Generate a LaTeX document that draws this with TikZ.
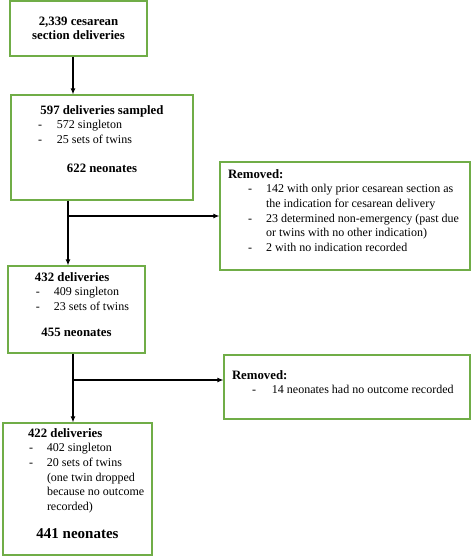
\documentclass[tikz,border=0pt]{standalone}
\usepackage{fontspec}
\setmainfont{Liberation Serif}
\usetikzlibrary{positioning}
\usetikzlibrary{calc}
\usetikzlibrary{arrows.meta}

\definecolor{boxgreen}{RGB}{112,173,71}
% box text: width, height, top gap, lines
\newcommand{\boxtext}[4]{\parbox[c][#2][t]{#1}{\vspace*{#3}#4}}
\newcommand{\dashitem}[3]{\hspace*{#1}\makebox[#2][l]{-}#3}
\newcommand{\hd}[1]{{\fontsize{12.8}{14.6}\selectfont\textbf{#1}}}

\tikzset{
  flowbox/.style={draw=boxgreen, line width=1.1pt, inner sep=0pt, font=\fontsize{12}{14.6}\selectfont},
  flowline/.style={line width=1.2pt, ->, >={Latex[length=6pt,width=5pt]}},
}

\begin{document}
\begin{tikzpicture}[x=1pt,y=-1pt]
	\useasboundingbox (0,0) rectangle (472,556);
	\node[flowbox] (total) at (78.5,28.5) {\parbox[c][55pt][c]{137pt}{\centering\hd{2,339 cesarean}\\\hd{section deliveries}}};
	\node[flowbox] (sampled) at (102,147.5) {\boxtext{182pt}{105pt}{10.5pt}{%
		\makebox[\linewidth]{\hd{597 deliveries sampled}}\\
		\dashitem{27pt}{19pt}{572 singleton}\\
		\dashitem{27pt}{19pt}{25 sets of twins}\\[14.6pt]
		\makebox[\linewidth]{\hd{622 neonates}}}};
	\node[flowbox] (removedA) at (345,216) {\boxtext{250pt}{108pt}{7.5pt}{%
		\hspace*{8pt}\hd{Removed:}\\
		\dashitem{28pt}{18pt}{142 with only prior cesarean section as}\\
		\hspace*{46pt}the indication for cesarean delivery\\
		\dashitem{28pt}{18pt}{23 determined non-emergency (past due}\\
		\hspace*{46pt}or twins with no other indication)\\
		\dashitem{28pt}{18pt}{2 with no indication recorded}}};
	\node[flowbox] (kept) at (76.5,309.5) {\boxtext{137pt}{87pt}{6.5pt}{%
		\hspace*{27pt}\hd{432 deliveries}\\
		\dashitem{28pt}{18pt}{409 singleton}\\
		\dashitem{28pt}{18pt}{23 sets of twins}\\[11pt]
		\makebox[\linewidth]{\hd{455 neonates}}}};
	\node[flowbox] (removedB) at (347,387) {\boxtext{246pt}{64pt}{15.5pt}{%
		\hspace*{8pt}\hd{Removed:}\\
		\dashitem{28pt}{20pt}{14 neonates had no outcome recorded}}};
	\node[flowbox] (final) at (77.5,489) {\boxtext{149pt}{132pt}{5.5pt}{%
		\hspace*{25pt}\hd{422 deliveries}\\
		\dashitem{26pt}{18pt}{402 singleton}\\
		\dashitem{26pt}{18pt}{20 sets of twins}\\
		\hspace*{44pt}(one twin dropped\\
		\hspace*{44pt}because no outcome\\
		\hspace*{44pt}recorded)\\[14pt]
		\makebox[\linewidth]{\fontsize{15}{17}\selectfont\textbf{441 neonates}}}};
	\coordinate (split1) at ([xshift=-34pt]sampled.south |- removedA.west);
	\coordinate (split2) at ([xshift=-3.5pt]kept.south |- 0,380);
	\draw[flowline] ([xshift=-5.5pt]total.south) -- ([xshift=-5.5pt]total.south |- sampled.north);
	\draw[flowline] ([xshift=-34pt]sampled.south) -- ([xshift=-34pt]sampled.south |- kept.north);
	\draw[flowline] (split1) -- (removedA.west);
	\draw[flowline] ([xshift=-3.5pt]kept.south) -- ([xshift=-3.5pt]kept.south |- final.north);
	\draw[flowline] (split2) -- (split2 -| removedB.west);
\end{tikzpicture}
\end{document}
